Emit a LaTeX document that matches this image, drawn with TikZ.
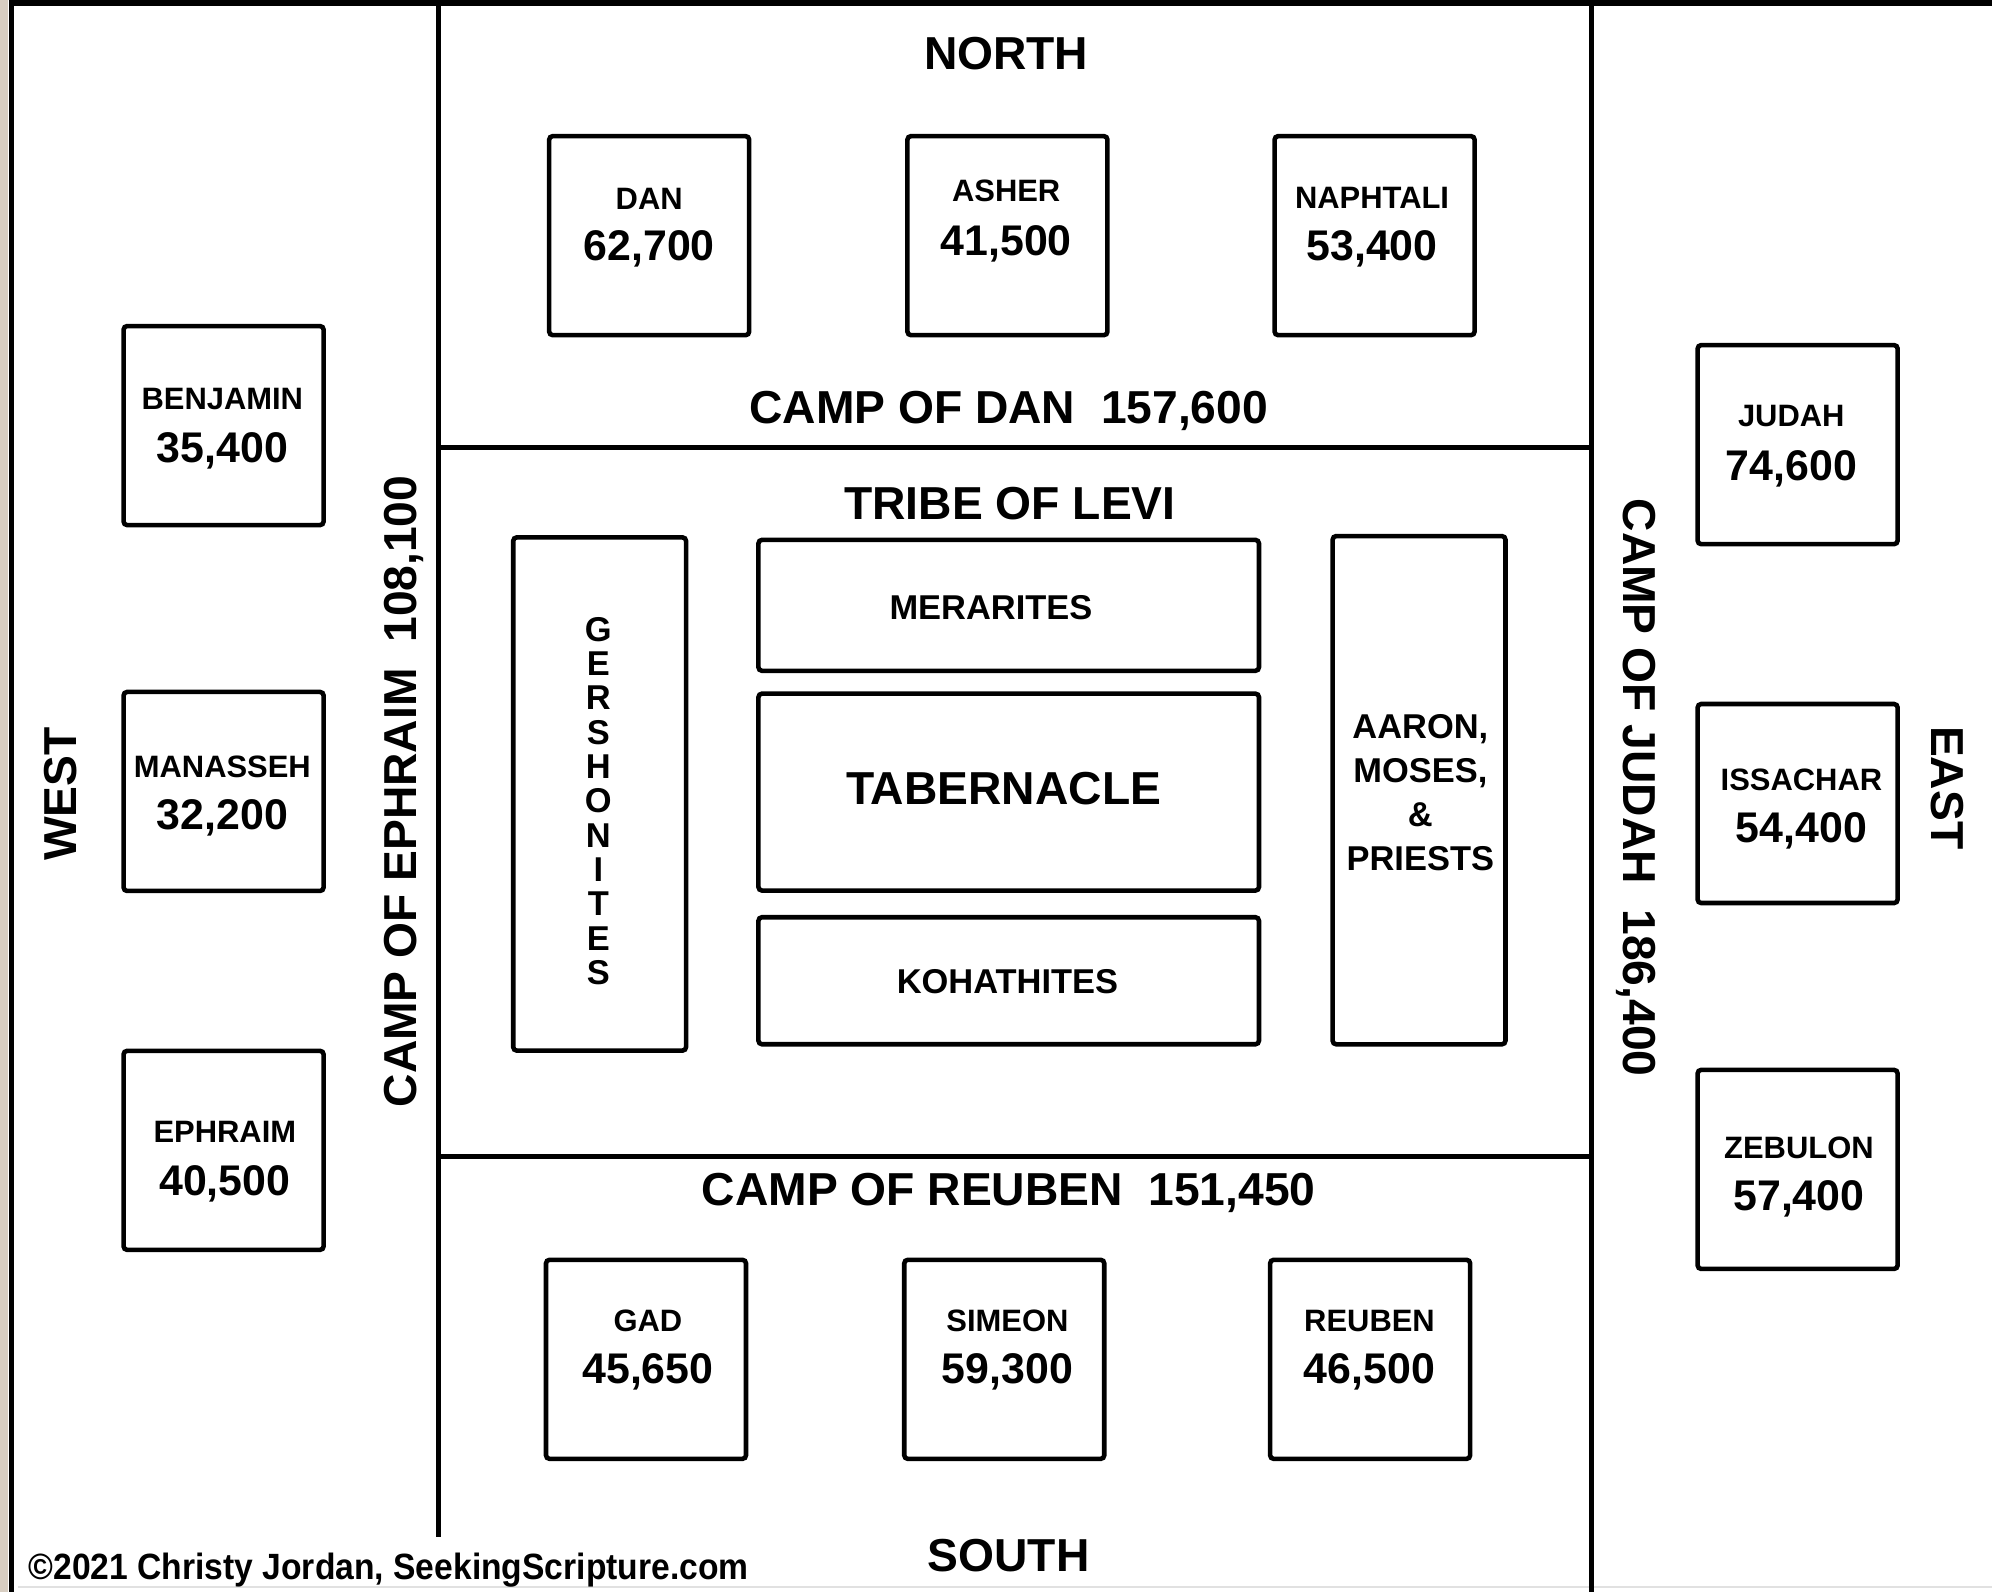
\documentclass[tikz,border=0pt]{standalone}
\usepackage{fontspec}
\setmainfont{Liberation Sans}
\definecolor{beige}{RGB}{216,206,194}
\definecolor{faint}{RGB}{225,225,225}
\begin{document}
\begin{tikzpicture}[x=0.12704mm,y=-0.12704mm,
  wall/.style={line width=1.45pt},
  tb/.style={draw, line width=1.3pt, rounded corners=1pt, inner sep=0pt,
             minimum width=20.0mm, minimum height=19.9mm},
  lb/.style={draw, line width=1.3pt, rounded corners=1pt, inner sep=0pt},
  big/.style={font=\fontsize{13.15}{15}\selectfont\bfseries, inner sep=0pt},
  mid/.style={font=\fontsize{9.8}{12.5}\selectfont\bfseries, inner sep=0pt, align=center},
  nm/.style={font=\fontsize{8.8}{10}\selectfont\bfseries, anchor=base, inner sep=0pt},
  num/.style={font=\fontsize{12.2}{14}\selectfont\bfseries, anchor=base, inner sep=0pt}]
\useasboundingbox (0,0) rectangle (1568,1253);
\fill[white] (0,0) rectangle (1568,1253);
\fill[beige] (0,0) rectangle (6,1253);
% outer and dividing lines
\draw[faint, line width=0.5pt] (14,1249) -- (1568,1249);
\draw[wall] (9,0) -- (9,1253);
\draw[line width=1.7pt] (7,2) -- (1568,2);
\draw[wall] (345,0) -- (345,1210);
\draw[wall] (1253,0) -- (1253,1253);
\draw[wall] (345,352) -- (1253,352);
\draw[wall] (345,910) -- (1253,910);

% headings
\node[big, anchor=base] (north) at (792,55) {NORTH};
\node[big, anchor=base] (campdan) at (794,333) {CAMP OF DAN\ \ 157,600};
\node[big, anchor=base] (levi) at (795,409) {TRIBE OF LEVI};
\node[big, anchor=base] (campreuben) at (794,949) {CAMP OF REUBEN\ \ 151,450};
\node[big, anchor=base] (south) at (794,1237) {SOUTH};
\node[big, rotate=90] (west) at (48,625) {WEST};
\node[big, rotate=-90] (east) at (1533,620) {EAST};
\node[big, rotate=90] (campephraim) at (318,623) {CAMP OF EPHRAIM\ \ 108,100};
\node[big, rotate=-90] (campjudah) at (1288,620) {CAMP OF JUDAH\ \ 186,400};

% north
\node[tb] (dan) at (511,185.5) {};
\node[nm] (danN) at (511,165) {DAN};
\node[num] (danV) at (511,205) {62,700};
\node[tb] (asher) at (793,185.5) {};
\node[nm] (asherN) at (792,159) {ASHER};
\node[num] (asherV) at (792,201) {41,500};
\node[tb] (naphtali) at (1082,185.5) {};
\node[nm] (naphtaliN) at (1080,164) {NAPHTALI};
\node[num] (naphtaliV) at (1080,205) {53,400};

% west
\node[tb] (benjamin) at (176,335) {};
\node[nm] (benjaminN) at (175,322) {BENJAMIN};
\node[num] (benjaminV) at (175,364) {35,400};
\node[tb] (manasseh) at (176,623) {};
\node[nm] (manassehN) at (175,612) {MANASSEH};
\node[num] (manassehV) at (175,653) {32,200};
\node[tb] (ephraim) at (176,905.5) {};
\node[nm] (ephraimN) at (177,899) {EPHRAIM};
\node[num] (ephraimV) at (177,941) {40,500};

% east
\node[tb] (judah) at (1415,350) {};
\node[nm] (judahN) at (1410,336) {JUDAH};
\node[num] (judahV) at (1410,378) {74,600};
\node[tb] (issachar) at (1415,632.5) {};
\node[nm] (issacharN) at (1418,622) {ISSACHAR};
\node[num] (issacharV) at (1418,663) {54,400};
\node[tb] (zebulon) at (1415,920.5) {};
\node[nm] (zebulonN) at (1416,912) {ZEBULON};
\node[num] (zebulonV) at (1416,953) {57,400};

% south
\node[tb] (gad) at (508.5,1070) {};
\node[nm] (gadN) at (510,1048) {GAD};
\node[num] (gadV) at (510,1089) {45,650};
\node[tb] (simeon) at (790.5,1070) {};
\node[nm] (simeonN) at (793,1048) {SIMEON};
\node[num] (simeonV) at (793,1089) {59,300};
\node[tb] (reuben) at (1078.5,1070) {};
\node[nm] (reubenN) at (1078,1048) {REUBEN};
\node[num] (reubenV) at (1078,1089) {46,500};

% levites
\node[lb, minimum width=17.28mm, minimum height=51.32mm] (gersh) at (472,625) {};
\node[mid, font=\fontsize{9.8}{9.76}\selectfont\bfseries] (gershT) at (471,630.5)
  {G\\E\\R\\S\\H\\O\\N\\I\\T\\E\\S};
\node[lb, minimum width=50.05mm, minimum height=13.09mm] (merari) at (794,476.5) {};
\node[mid] (merariT) at (780,478) {MERARITES};
\node[lb, minimum width=50.05mm, minimum height=19.69mm] (tabernacle) at (794,623.5) {};
\node[big] (tabernacleT) at (790,621) {TABERNACLE};
\node[lb, minimum width=50.05mm, minimum height=12.70mm] (kohath) at (794,772) {};
\node[mid] (kohathT) at (793,773) {KOHATHITES};
\node[lb, minimum width=17.28mm, minimum height=50.82mm] (aaron) at (1117,622) {};
\node[mid] (aaronT) at (1118,624) {AARON,\\MOSES,\\\&\\PRIESTS};

% copyright
\node[anchor=base west, inner sep=0pt, font=\fontsize{10.4}{12}\selectfont\bfseries] (copy) at (22,1243)
  {\scalebox{0.92}[1]{\textcopyright2021 Christy Jordan, SeekingScripture.com}};
\end{tikzpicture}
\end{document}
